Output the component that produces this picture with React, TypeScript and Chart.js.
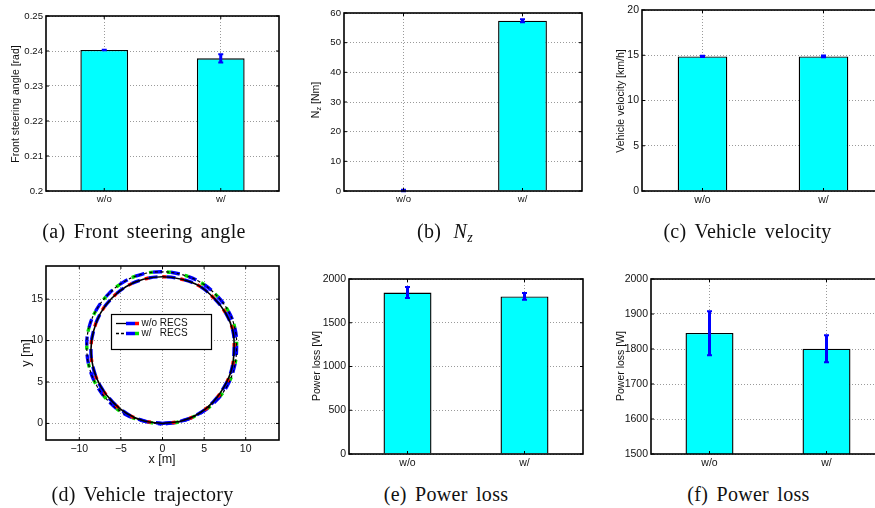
import React, { useEffect, useRef } from 'react';
import { Chart, registerables } from 'chart.js';

Chart.register(...registerables);

// ---------------- data ----------------
const categories = ['w/o', 'w/'];

const steeringAngle = [0.2403, 0.2379];
const steeringErrLow = [0.24022, 0.2367];
const steeringErrHigh = [0.24038, 0.2391];
const steeringTicks = [0.2, 0.21, 0.22, 0.23, 0.24, 0.25];

const nzValues = [0.15, 57.4];
const nzErrLow = [-0.1, 56.9];
const nzErrHigh = [0.4, 57.9];
const nzTicks = [0, 10, 20, 30, 40, 50, 60];

const velocityValues = [14.87, 14.87];
const velocityErrLow = [14.8, 14.78];
const velocityErrHigh = [14.94, 14.96];
const velocityTicks = [0, 5, 10, 15, 20];

const powerLoss = [1846, 1801];
const powerErrLow = [1782, 1762];
const powerErrHigh = [1908, 1839];
const powerTicksFull = [0, 500, 1000, 1500, 2000];
const powerTicksZoom = [1500, 1600, 1700, 1800, 1900, 2000];

const trajXTicks = [-10, -5, 0, 5, 10];
const trajYTicks = [0, 5, 10, 15];

// trajectory without RECS
const trajWithoutX = [0, 2.3, 4.4, 6.1, 7.4, 8.3, 8.6, 8.45, 7.6, 6.2, 4.4, 2.3, 0, -2.3, -4.4, -6.1, -7.45, -8.3, -8.6, -8.3, -7.4, -6.0, -4.3, -2.2, 0];
const trajWithoutY = [0, 0.3, 1.2, 2.6, 4.4, 6.5, 8.9, 11.2, 13.3, 15.1, 16.6, 17.4, 17.7, 17.4, 16.5, 15.1, 13.3, 11.1, 8.85, 6.6, 4.4, 2.6, 1.2, 0.3, 0];
// trajectory with RECS
const trajWithX = [-0.1, 2.2, 4.4, 6.3, 7.75, 8.6, 8.9, 8.7, 7.8, 6.3, 4.45, 2.2, -0.2, -2.5, -4.7, -6.5, -7.95, -8.85, -9.1, -8.8, -7.9, -6.4, -4.55, -2.35, -0.1];
const trajWithY = [-0.1, 0.25, 1.15, 2.6, 4.5, 6.7, 9.0, 11.5, 13.75, 15.65, 17.1, 18.0, 18.3, 18.0, 17.05, 15.6, 13.7, 11.5, 9.3, 6.8, 4.55, 2.6, 1.15, 0.3, -0.1];

// ---------------- layout / style ----------------
type Box = { l: number; t: number; r: number; b: number };
const PAD_L = 45;
const PAD_T = 10;
const PAD_R = 10;
const PAD_B = 25;
const SANS = "'Liberation Sans', Arial, Helvetica, sans-serif";
const SERIF = "'Liberation Serif', 'Times New Roman', Times, serif";
const GRID = '#9a9a9a';
const TEXT = '#111';

const BOX_A: Box = { l: 46, t: 16, r: 279, b: 191 };
const BOX_B: Box = { l: 344, t: 13, r: 582, b: 191 };
const BOX_C: Box = { l: 642, t: 10, r: 884, b: 191 };
const BOX_D: Box = { l: 46, t: 266, r: 279, b: 440 };
const BOX_E: Box = { l: 349, t: 279, r: 583, b: 453.5 };
const BOX_F: Box = { l: 651, t: 279, r: 885, b: 453.5 };

const framePlugin = {
  id: 'matlabFrame',
  afterDraw(chart: any) {
    const { ctx, chartArea: a } = chart;
    ctx.save();
    ctx.strokeStyle = '#000';
    ctx.lineWidth = 1;
    const tl = 3;
    const ys = chart.scales.y;
    ys.ticks.forEach((t: any) => {
      const p = ys.getPixelForValue(t.value);
      ctx.beginPath();
      ctx.moveTo(a.left, p);
      ctx.lineTo(a.left + tl, p);
      ctx.moveTo(a.right, p);
      ctx.lineTo(a.right - tl, p);
      ctx.stroke();
    });
    const xs = chart.scales.x;
    xs.ticks.forEach((t: any, i: number) => {
      const p = xs.getPixelForTick(i);
      ctx.beginPath();
      ctx.moveTo(p, a.bottom);
      ctx.lineTo(p, a.bottom - tl);
      ctx.moveTo(p, a.top);
      ctx.lineTo(p, a.top + tl);
      ctx.stroke();
    });
    ctx.lineWidth = 1.6;
    ctx.strokeRect(a.left, a.top, a.right - a.left, a.bottom - a.top);
    ctx.restore();
  },
};

function errorBarPlugin(low: number[], high: number[]) {
  return {
    id: 'errorBars',
    afterDatasetsDraw(chart: any) {
      const { ctx, chartArea: a } = chart;
      const meta = chart.getDatasetMeta(0);
      const ys = chart.scales.y;
      ctx.save();
      ctx.beginPath();
      ctx.rect(a.left, a.top - 2, a.right - a.left, a.bottom - a.top + 4);
      ctx.clip();
      ctx.strokeStyle = '#0000ff';
      meta.data.forEach((bar: any, i: number) => {
        const x = bar.x;
        const y1 = ys.getPixelForValue(low[i]);
        const y2 = ys.getPixelForValue(high[i]);
        ctx.lineWidth = 3;
        ctx.beginPath();
        ctx.moveTo(x, y1);
        ctx.lineTo(x, y2);
        ctx.stroke();
        ctx.lineWidth = 2;
        ctx.beginPath();
        ctx.moveTo(x - 2.5, y1);
        ctx.lineTo(x + 2.5, y1);
        ctx.moveTo(x - 2.5, y2);
        ctx.lineTo(x + 2.5, y2);
        ctx.stroke();
      });
      ctx.restore();
    },
  };
}

const legendPlugin = {
  id: 'trajLegend',
  afterDatasetsDraw(chart: any) {
    const { ctx, chartArea: a } = chart;
    const bx = Math.round(a.left + 65);
    const by = Math.round(a.top + 48);
    const bw = 100;
    const bh = 35;
    ctx.save();
    ctx.fillStyle = '#fff';
    ctx.fillRect(bx, by, bw, bh);
    ctx.strokeStyle = '#000';
    ctx.lineWidth = 1.2;
    ctx.strokeRect(bx + 0.5, by + 0.5, bw, bh);
    const rows = [
      { y: by + 9.5, dash: [] as number[], c2: '#ff0000', label: 'w/o RECS' },
      { y: by + 19.5, dash: [3, 2], c2: '#00dd00', label: 'w/   RECS' },
    ];
    rows.forEach((r) => {
      ctx.setLineDash(r.dash);
      ctx.strokeStyle = '#000';
      ctx.lineWidth = 1.3;
      ctx.beginPath();
      ctx.moveTo(bx + 5, r.y);
      ctx.lineTo(bx + 16, r.y);
      ctx.stroke();
      ctx.setLineDash([]);
      ctx.lineWidth = 3.5;
      ctx.strokeStyle = '#0000ff';
      ctx.beginPath();
      ctx.moveTo(bx + 15, r.y);
      ctx.lineTo(bx + 24, r.y);
      ctx.stroke();
      ctx.strokeStyle = r.c2;
      ctx.beginPath();
      ctx.moveTo(bx + 24, r.y);
      ctx.lineTo(bx + 28, r.y);
      ctx.stroke();
      ctx.fillStyle = TEXT;
      ctx.font = `10px ${SANS}`;
      ctx.textBaseline = 'middle';
      ctx.fillText(r.label, bx + 30.5, r.y);
    });
    ctx.restore();
  },
};

function gridOpts() {
  return { drawTicks: false, color: GRID, lineWidth: 1 };
}

function barConfig(
  values: number[],
  low: number[],
  high: number[],
  min: number,
  max: number,
  ticks: number[],
  fontSize: number,
  fmt: (v: number) => string
) {
  return {
    type: 'bar',
    data: {
      labels: categories,
      datasets: [
        {
          data: values,
          backgroundColor: '#00ffff',
          borderColor: '#000000',
          borderWidth: 1.4,
          barPercentage: 0.41,
          categoryPercentage: 1,
        },
      ],
    },
    options: {
      animation: false,
      responsive: false,
      devicePixelRatio: 1,
      events: [],
      layout: { padding: { left: 0, top: PAD_T, right: PAD_R, bottom: 0 } },
      plugins: { legend: { display: false }, tooltip: { enabled: false } },
      scales: {
        x: {
          grid: { ...gridOpts(), offset: false },
          border: { display: false, dash: [1, 2] },
          ticks: { padding: 3, color: TEXT, font: { size: fontSize, family: SANS } },
          afterFit: (s: any) => {
            s.height = PAD_B;
          },
        },
        y: {
          min,
          max,
          afterBuildTicks: (s: any) => {
            s.ticks = ticks.map((v) => ({ value: v }));
          },
          grid: gridOpts(),
          border: { display: false, dash: [1, 2] },
          ticks: {
            padding: 3,
            color: TEXT,
            font: { size: fontSize, family: SANS },
            callback: (v: any) => fmt(Number(v)),
          },
          afterFit: (s: any) => {
            s.width = PAD_L;
          },
        },
      },
    },
    plugins: [errorBarPlugin(low, high), framePlugin],
  };
}

function toPoints(xs: number[], ys: number[]) {
  return xs.map((x, i) => ({ x, y: ys[i] }));
}

function trajConfig() {
  const wo = toPoints(trajWithoutX, trajWithoutY);
  const w = toPoints(trajWithX, trajWithY);
  const line = (data: any[], color: string, width: number, dash: number[], offset = 0) => ({
    data,
    showLine: true,
    borderColor: color,
    borderWidth: width,
    borderDash: dash,
    borderDashOffset: offset,
    pointRadius: 0,
    tension: 0.4,
    fill: false,
  });
  const minus = (v: number) => (v < 0 ? '\u2212' + Math.abs(v) : String(v));
  return {
    type: 'scatter',
    data: {
      datasets: [
        line(wo, '#000000', 1.6, []),
        line(wo, '#0000ff', 3.4, [9, 9]),
        line(wo, '#ff0000', 3.4, [4, 14], 9),
        line(w, '#000000', 1.2, [3, 2.5]),
        line(w, '#0000ff', 3.4, [9, 9], 14),
        line(w, '#00dd00', 3.4, [4, 14], 5),
      ],
    },
    options: {
      animation: false,
      responsive: false,
      devicePixelRatio: 1,
      events: [],
      layout: { padding: { left: 0, top: PAD_T, right: PAD_R, bottom: 0 } },
      plugins: { legend: { display: false }, tooltip: { enabled: false } },
      scales: {
        x: {
          type: 'linear',
          min: -14,
          max: 14,
          afterBuildTicks: (s: any) => {
            s.ticks = trajXTicks.map((v) => ({ value: v }));
          },
          grid: gridOpts(),
          border: { display: false, dash: [1, 2] },
          ticks: { padding: 3, color: TEXT, font: { size: 10.5, family: SANS }, callback: (v: any) => minus(Number(v)) },
          afterFit: (s: any) => {
            s.height = PAD_B;
          },
        },
        y: {
          type: 'linear',
          min: -2,
          max: 19,
          afterBuildTicks: (s: any) => {
            s.ticks = trajYTicks.map((v) => ({ value: v }));
          },
          grid: gridOpts(),
          border: { display: false, dash: [1, 2] },
          ticks: { padding: 3, color: TEXT, font: { size: 10.5, family: SANS }, callback: (v: any) => String(v) },
          afterFit: (s: any) => {
            s.width = PAD_L;
          },
        },
      },
    },
    plugins: [legendPlugin, framePlugin],
  };
}

function ChartPanel({ box, make }: { box: Box; make: () => any }) {
  const ref = useRef<HTMLCanvasElement>(null);
  const w = Math.round(box.r - box.l + PAD_L + PAD_R);
  const h = Math.round(box.b - box.t + PAD_T + PAD_B);
  useEffect(() => {
    const chart = new Chart(ref.current as HTMLCanvasElement, make());
    return () => chart.destroy();
  }, []);
  return (
    <div style={{ position: 'absolute', left: box.l - PAD_L, top: box.t - PAD_T, width: w, height: h }}>
      <canvas ref={ref} width={w} height={h} style={{ width: w, height: h, display: 'block' }} />
    </div>
  );
}

function YTitle({ x, y, size = 10.5, children }: { x: number; y: number; size?: number; children: any }) {
  return (
    <div
      style={{
        position: 'absolute',
        left: x,
        top: y,
        transform: 'translate(-50%, -50%) rotate(-90deg)',
        whiteSpace: 'pre',
        fontFamily: SANS,
        fontSize: size,
        lineHeight: '14px',
        color: TEXT,
      }}
    >
      {children}
    </div>
  );
}

function Caption({ x, y, children }: { x: number; y: number; children: any }) {
  return (
    <div
      style={{
        position: 'absolute',
        left: x - 150,
        top: y - 12,
        width: 300,
        textAlign: 'center',
        fontFamily: SERIF,
        fontSize: 20,
        lineHeight: '24px',
        letterSpacing: '0.3px',
        wordSpacing: '3px',
        color: '#111',
        whiteSpace: 'pre',
      }}
    >
      {children}
    </div>
  );
}

const fmt2 = (v: number) => String(Number(v.toFixed(2)));
const fmt0 = (v: number) => String(Math.round(v));

export default function App() {
  return (
    <div
      style={{
        position: 'fixed',
        left: 0,
        top: 0,
        width: 875,
        height: 508,
        overflow: 'hidden',
        background: '#fff',
      }}
    >
      <ChartPanel
        box={BOX_A}
        make={() => barConfig(steeringAngle, steeringErrLow, steeringErrHigh, 0.2, 0.25, steeringTicks, 9.6, fmt2)}
      />
      <ChartPanel box={BOX_B} make={() => barConfig(nzValues, nzErrLow, nzErrHigh, 0, 60, nzTicks, 9.6, fmt0)} />
      <ChartPanel
        box={BOX_C}
        make={() => barConfig(velocityValues, velocityErrLow, velocityErrHigh, 0, 20, velocityTicks, 10.5, fmt0)}
      />
      <ChartPanel box={BOX_D} make={trajConfig} />
      <ChartPanel
        box={BOX_E}
        make={() => barConfig(powerLoss, powerErrLow, powerErrHigh, 0, 2000, powerTicksFull, 10.5, fmt0)}
      />
      <ChartPanel
        box={BOX_F}
        make={() => barConfig(powerLoss, powerErrLow, powerErrHigh, 1500, 2000, powerTicksZoom, 10.5, fmt0)}
      />

      <YTitle x={15} y={103.5}>Front steering angle [rad]</YTitle>
      <YTitle x={317} y={100}>
        N<sub style={{ fontSize: '0.7em', verticalAlign: '-0.3em' }}>z</sub> [Nm]
      </YTitle>
      <YTitle x={619.5} y={100.5}>Vehicle velocity [km/h]</YTitle>
      <YTitle x={26} y={353} size={12.8}>y [m]</YTitle>
      <YTitle x={315.7} y={366}>Power loss [W]</YTitle>
      <YTitle x={619.5} y={366}>Power loss [W]</YTitle>

      <div
        style={{
          position: 'absolute',
          left: 162 - 40,
          top: 459 - 8,
          width: 80,
          textAlign: 'center',
          fontFamily: SANS,
          fontSize: 12.5,
          lineHeight: '16px',
          color: TEXT,
        }}
      >
        x [m]
      </div>

      <Caption x={144} y={231}>(a) Front steering angle</Caption>
      <Caption x={445} y={231}>
        (b){' '}
        <i style={{ marginLeft: 4 }}>N</i>
        <sub style={{ fontSize: '0.7em', fontStyle: 'italic', verticalAlign: '-0.25em' }}>z</sub>
      </Caption>
      <Caption x={747.5} y={231}>(c) Vehicle velocity</Caption>
      <Caption x={142.5} y={494}>(d) Vehicle trajectory</Caption>
      <Caption x={446} y={494}>(e) Power loss</Caption>
      <Caption x={748.5} y={494}>(f) Power loss</Caption>
    </div>
  );
}
